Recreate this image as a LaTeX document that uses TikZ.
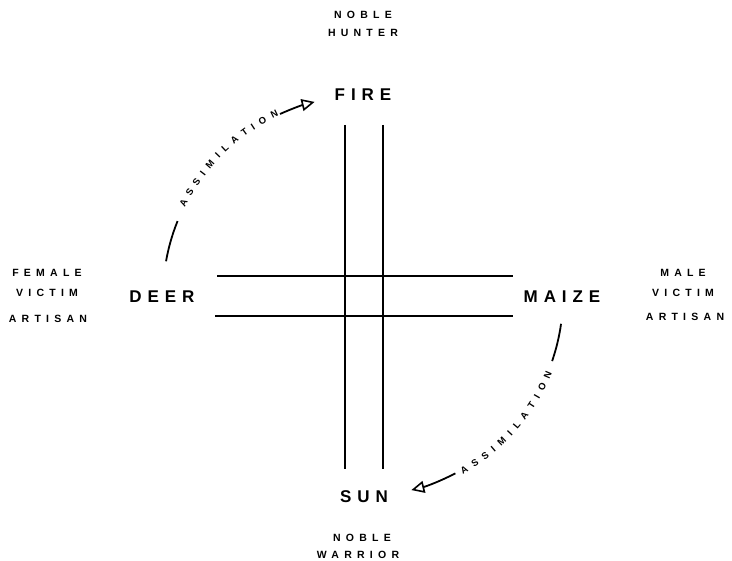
\documentclass[tikz,border=0pt]{standalone}
\usepackage{fontspec}
\usetikzlibrary{arrows.meta}
\newfontfamily\bigfont{Liberation Sans}[LetterSpace=35,UprightFont={* Bold}]
\newfontfamily\smallfont{Liberation Sans}[LetterSpace=50,UprightFont={* Bold}]
\newfontfamily\arcfont{Liberation Sans}[UprightFont={* Bold}]
\begin{document}
\begin{tikzpicture}[x=1pt,y=1pt,
  big/.style={font=\bigfont\fontsize{17}{17}\selectfont, inner sep=0pt},
  small/.style={font=\smallfont\fontsize{10.5}{10.5}\selectfont, inner sep=0pt},
  arcletter/.style={font=\arcfont\fontsize{9.5}{9.5}\selectfont, inner sep=0pt},
  cross/.style={line width=1.5pt},
  arcline/.style={line width=1.8pt},
  tip/.style={-{Triangle[open,length=13pt,width=12pt,line width=1.6pt]}}
]
\useasboundingbox (0,0) rectangle (732,561);
\coordinate (c) at (363,265);
% cross
\coordinate (vlt) at (345,436); \coordinate (vlb) at (345,92);
\coordinate (vrt) at (383,436); \coordinate (vrb) at (383,92);
\coordinate (hlt) at (217,285); \coordinate (hrt) at (513,285);
\coordinate (hlb) at (215,245); \coordinate (hrb) at (513,245);
\draw[cross] (vlt) -- (vlb);
\draw[cross] (vrt) -- (vrb);
\draw[cross] (hlt) -- (hrt);
\draw[cross] (hlb) -- (hrb);
% main labels
\node[big] (fire) at (363,466) {FIRE};
\node[big] (deer) at (162,264) {DEER};
\node[big] (maize) at (562,264) {MAIZE};
\node[big] (sun) at (364,64) {SUN};
% small labels
\node[small] (n1) at (363,546) {NOBLE};
\node[small] (h1) at (363,528) {HUNTER};
\node[small] (f1) at (47,288) {FEMALE};
\node[small] (f2) at (47,268) {VICTIM};
\node[small] (f3) at (48,242) {ARTISAN};
\node[small] (m1) at (683,288) {MALE};
\node[small] (m2) at (683,268) {VICTIM};
\node[small] (m3) at (685,244) {ARTISAN};
\node[small] (n2) at (362,23) {NOBLE};
\node[small] (w2) at (358,6.5) {WARRIOR};
% assimilation arcs
\draw[arcline] (c) ++(158:200) arc (158:170:200);
\draw[arcline,tip] (c) ++(114.5:200) arc (114.5:104:200);
\draw[arcline] (c) ++(-8:200) arc (-8:-19:200);
\draw[arcline,tip] (c) ++(-62.5:200) arc (-62.5:-76:200);
\foreach \l/\o [count=\i] in {A/0,S/3.64,S/7.20,I/10.22,M/13.46,I/16.71,L/19.65,A/23.21,T/26.77,I/29.70,O/32.87,N/36.67}{
  \pgfmathsetmacro\anga{152.7-\o}
  \node[arcletter, rotate=\anga-90] (ta\i) at ([shift={(\anga:202)}]c) {\l};
  \pgfmathsetmacro\angb{-59.8+\o}
  \node[arcletter, rotate=\angb+90] (tb\i) at ([shift={(\angb:201)}]c) {\l};
}
\end{tikzpicture}
\end{document}
